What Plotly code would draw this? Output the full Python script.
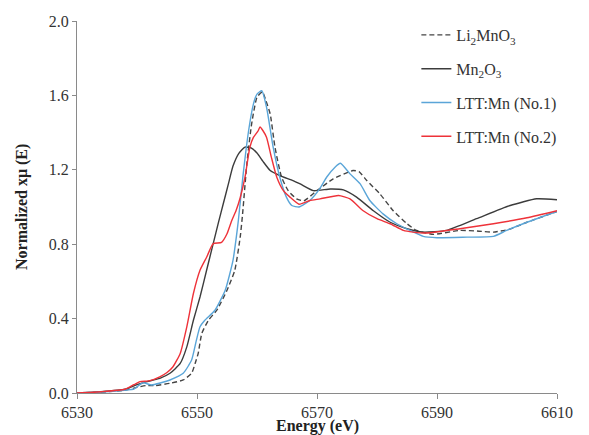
import plotly.graph_objects as go

# ---- data ----
li2mno3_E = [6530, 6534, 6538, 6540, 6541.5, 6543, 6545.5, 6547.7, 6549.1, 6549.7, 6550.2, 6550.8,
             6551.9, 6553.3, 6555, 6556.3, 6557.2, 6557.6, 6558.3, 6559.1, 6560, 6560.9, 6561.4,
             6562.2, 6563, 6564.1, 6565.2, 6566.6, 6567.8, 6570, 6572.7, 6576, 6577, 6578.3,
             6580.5, 6582.7, 6585, 6586.6, 6589.4, 6593.8, 6597, 6599.4, 6602, 6605, 6610]
li2mno3_mu = [0.0, 0.005, 0.015, 0.03, 0.04, 0.04, 0.052, 0.07, 0.106, 0.16, 0.213, 0.32,
              0.391, 0.445, 0.552, 0.66, 0.838, 0.963, 1.23, 1.446, 1.59, 1.62, 1.58,
              1.50, 1.32, 1.16, 1.088, 1.044, 1.033, 1.088, 1.151, 1.196, 1.19, 1.142,
              1.07, 0.98, 0.91, 0.874, 0.853, 0.874, 0.87, 0.865, 0.88, 0.918, 0.976]

mn2o3_E = [6530, 6534, 6538, 6540, 6541.5, 6543.8, 6545.5, 6547.2, 6548.3, 6549.4, 6550.5, 6551.6,
           6552.7, 6553.6, 6554.4, 6555.2, 6556, 6557, 6558, 6559, 6560, 6561, 6562.2, 6563.8, 6566,
           6567.2, 6569.4, 6572.2, 6574.4, 6576.6, 6579.4, 6582.2, 6585, 6587.7, 6591.6,
           6596.6, 6602.2, 6606.6, 6610]
mn2o3_mu = [0.0, 0.007, 0.02, 0.045, 0.06, 0.079, 0.106, 0.159, 0.248, 0.391, 0.516, 0.66,
            0.803, 0.92, 1.02, 1.12, 1.22, 1.29, 1.322, 1.318, 1.29, 1.245, 1.196, 1.169, 1.142,
            1.124, 1.088, 1.097, 1.092, 1.053, 0.98, 0.918, 0.883, 0.865, 0.874,
            0.937, 1.008, 1.044, 1.039]

ltt1_E = [6530, 6534, 6538.3, 6539.4, 6541, 6542.4, 6544, 6545.5, 6547.7, 6549.1, 6549.9, 6550.5,
          6551.3, 6553, 6554.7, 6556, 6556.6, 6556.9, 6557.7, 6558.6, 6559.4, 6560, 6560.8,
          6561.6, 6562.7, 6563.8, 6564.9, 6565.8, 6567, 6568.8, 6570.5, 6571.6, 6573, 6573.9,
          6575.5, 6577.2, 6578.8, 6581, 6583.3, 6585.5, 6587.7, 6590, 6595, 6599.4, 6601.6,
          6605, 6610]
ltt1_mu = [0.0, 0.005, 0.016, 0.02, 0.055, 0.043, 0.055, 0.07, 0.106, 0.177, 0.284, 0.356,
           0.391, 0.445, 0.552, 0.713, 0.85, 0.93, 1.178, 1.41, 1.553, 1.607, 1.625,
           1.535, 1.32, 1.16, 1.053, 1.008, 1.0, 1.035, 1.1, 1.16, 1.214, 1.235,
           1.178, 1.124, 1.035, 0.963, 0.91, 0.874, 0.842, 0.835, 0.838, 0.842, 0.874,
           0.918, 0.976]

ltt2_E = [6530, 6534, 6538, 6539.5, 6540.5, 6542, 6543.8, 6545, 6546, 6547.2, 6548.3, 6549.4,
          6550.5, 6551.6, 6552.7, 6554.1, 6555, 6555.8, 6556.5, 6557.2, 6558, 6558.8, 6559.4,
          6560.2, 6560.5, 6561, 6561.6, 6562.4, 6563.3, 6564.4, 6565.5, 6567, 6568.8, 6570.5,
          6573.6, 6575.5, 6577.7, 6580, 6582.2, 6584.4, 6586, 6588.3, 6593.8, 6599.4, 6605, 6610]
ltt2_mu = [0.0, 0.007, 0.02, 0.045, 0.061, 0.065, 0.087, 0.11, 0.141, 0.213, 0.356, 0.535,
           0.66, 0.73, 0.803, 0.81, 0.856, 0.928, 0.98, 1.05, 1.16, 1.32, 1.374,
           1.41, 1.43, 1.41, 1.374, 1.267, 1.16, 1.088, 1.053, 1.015, 1.035, 1.044,
           1.062, 1.044, 0.98, 0.937, 0.91, 0.874, 0.865, 0.86, 0.883, 0.91, 0.942, 0.98]

x_ticks = [6530, 6550, 6570, 6590, 6610]
y_ticks = [0.0, 0.4, 0.8, 1.2, 1.6, 2.0]
y_tick_text = ["0.0", "0.4", "0.8", "1.2", "1.6", "2.0"]

FONT = "Liberation Serif, Times New Roman, serif"

fig = go.Figure()
series = [
    (li2mno3_E, li2mno3_mu, "Li<sub>2</sub>MnO<sub>3</sub>", "#444444", "5px,3px"),
    (mn2o3_E, mn2o3_mu, "Mn<sub>2</sub>O<sub>3</sub>", "#3c3c3c", "solid"),
    (ltt1_E, ltt1_mu, "LTT:Mn (No.1)", "#5AA5D8", "solid"),
    (ltt2_E, ltt2_mu, "LTT:Mn (No.2)", "#EE3239", "solid"),
]
for i, (xs, ys, name, col, dash) in enumerate(series):
    fig.add_trace(go.Scatter(x=xs, y=ys, mode="lines", name=name, legendgroup=f"g{i}",
                             line=dict(color=col, width=1.4, dash=dash, shape="spline", smoothing=0.5)))

fig.update_layout(
    width=589, height=435,
    margin=dict(l=77, r=32, t=21, b=42),
    paper_bgcolor="white", plot_bgcolor="white",
    font=dict(family=FONT, size=16, color="#333333"),
    showlegend=True,
    legend=dict(x=0.707, y=1.008, xanchor="left", yanchor="top", tracegroupgap=10,
                font=dict(family=FONT, size=16, color="#333333"), bgcolor="rgba(0,0,0,0)"),
    xaxis=dict(range=[6530, 6610], tickvals=x_ticks, showgrid=False, zeroline=False,
               showline=True, linecolor="#8a8a8a", linewidth=1, ticks="outside", ticklen=5,
               tickcolor="#8a8a8a", automargin=False, tickfont=dict(size=16)),
    yaxis=dict(range=[0, 2.0], tickvals=y_ticks, ticktext=y_tick_text, showgrid=False, zeroline=False,
               showline=True, linecolor="#8a8a8a", linewidth=1, ticks="outside", ticklen=4,
               tickcolor="#8a8a8a", automargin=False, tickfont=dict(size=16)),
    annotations=[
        dict(text="<b>Energy (eV)</b>", xref="paper", yref="paper", x=(317 - 77) / 480,
             y=(393 - 426) / 372, xanchor="center", yanchor="middle", showarrow=False,
             font=dict(family=FONT, size=16, color="#222222")),
        dict(text="<b>Normalized xμ (E)</b>", xref="paper", yref="paper", x=(22 - 77) / 480,
             y=(393 - 207) / 372, xanchor="center", yanchor="middle", showarrow=False, textangle=-90,
             font=dict(family=FONT, size=16, color="#222222")),
    ],
)

fig.write_html("out.html", config={"displayModeBar": False},
               post_script="document.body.style.margin='0px';")
